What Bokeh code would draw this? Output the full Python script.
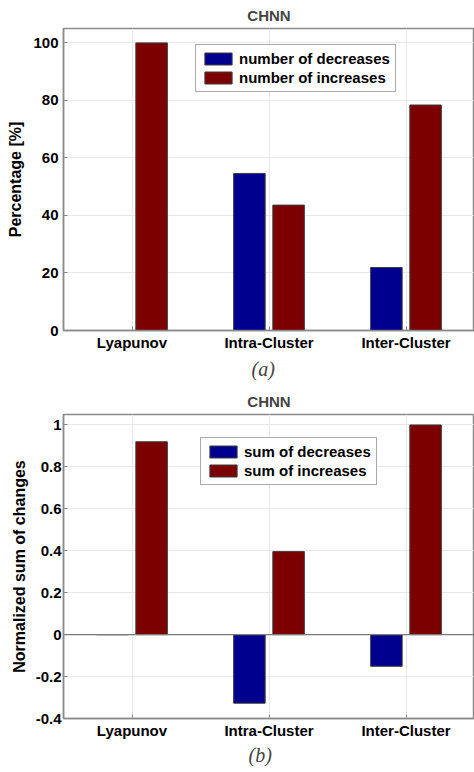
from bokeh.plotting import figure
from bokeh.layouts import column
from bokeh.models import (ColumnDataSource, Range1d, FixedTicker, Legend,
                          LegendItem, Title, Span)
from bokeh.transform import dodge
from bokeh.embed import file_html
from bokeh.resources import INLINE

# ---------------- data ----------------
categories = ["Lyapunov", "Intra-Cluster", "Inter-Cluster"]

pct_decreases = [0.0, 54.6, 21.9]
pct_increases = [100.0, 43.6, 78.4]

sum_decreases = [0.0, -0.327, -0.151]
sum_increases = [0.92, 0.396, 1.0]

ticks_a = [0, 20, 40, 60, 80, 100]
tick_labels_a = ["0", "20", "40", "60", "80", "100"]
ticks_b = [-0.4, -0.2, 0.0, 0.2, 0.4, 0.6, 0.8, 1.0]
tick_labels_b = ["-0.4", "-0.2", "0", "0.2", "0.4", "0.6", "0.8", "1"]

legend_a = ["number of decreases", "number of increases"]
legend_b = ["sum of decreases", "sum of increases"]

BLUE = "#00008F"
RED = "#7D0000"
FRAME = "#8a8a8a"
FONT = "Liberation Sans"


def make_panel(dec, inc, labels, ylabel, caption, y0, y1, ticks, tick_labels,
               legend_xy, left_border, bottom_border, zero_line,
               cap_offset, cap_standoff, title_standoff, ylab_standoff,
               yaxlab_standoff):
    src = ColumnDataSource(dict(cat=categories, dec=dec, inc=inc))
    p = figure(x_range=categories, y_range=Range1d(y0, y1),
               width=474, height=386, output_backend="svg",
               toolbar_location=None, tools="",
               min_border_left=left_border, min_border_right=0,
               min_border_top=28, min_border_bottom=bottom_border)
    p.x_range.range_padding = 0

    r1 = p.vbar(x=dodge("cat", -0.143, range=p.x_range), top="dec",
                width=0.23, source=src, fill_color=BLUE,
                line_color="#3c3c3c", line_width=1)
    r2 = p.vbar(x=dodge("cat", 0.143, range=p.x_range), top="inc",
                width=0.23, source=src, fill_color=RED,
                line_color="#3c3c3c", line_width=1)
    if zero_line:
        p.add_layout(Span(location=0, dimension="width",
                          line_color="#7a7a7a", line_width=1.2))

    # title
    p.title.text = "CHNN"
    p.title.align = "center"
    p.title.text_font = FONT
    p.title.text_font_size = "15px"
    p.title.text_font_style = "bold"
    p.title.standoff = title_standoff

    # caption
    p.add_layout(Title(text=caption, align="left", offset=cap_offset,
                       text_font="Liberation Serif",
                       text_font_style="italic", text_font_size="20px",
                       standoff=cap_standoff), "below")

    p.background_fill_color = "white"
    p.border_fill_color = "white"
    p.outline_line_color = FRAME
    p.outline_line_width = 1.5

    p.xgrid.grid_line_color = "#e8e8e8"
    p.ygrid.grid_line_color = "#e8e8e8"

    p.yaxis.ticker = FixedTicker(ticks=ticks)
    p.yaxis.major_label_overrides = {t: s for t, s in zip(ticks, tick_labels)}
    p.yaxis.axis_label = ylabel

    for ax in (p.xaxis[0], p.yaxis[0]):
        ax.axis_line_color = FRAME
        ax.axis_line_width = 1.5
        ax.major_tick_in = 4
        ax.major_tick_out = 0
        ax.major_tick_line_color = FRAME
        ax.minor_tick_line_color = None
        ax.major_label_text_font = FONT
        ax.major_label_text_font_size = "15px"
        ax.major_label_text_font_style = "bold"
        ax.major_label_text_color = "black"
        ax.axis_label_text_font = FONT
        ax.axis_label_text_font_size = "16px"
        ax.axis_label_text_font_style = "bold"
        ax.axis_label_text_color = "black"
        ax.axis_label_standoff = 6
        ax.major_label_standoff = 5
    p.xaxis.major_label_standoff = 3
    p.yaxis.major_label_standoff = ylab_standoff
    p.yaxis.axis_label_standoff = yaxlab_standoff

    legend = Legend(items=[LegendItem(label=labels[0], renderers=[r1]),
                           LegendItem(label=labels[1], renderers=[r2])],
                    location=legend_xy)
    legend.border_line_color = "#555555"
    legend.border_line_width = 1
    legend.background_fill_color = "white"
    legend.background_fill_alpha = 1
    legend.label_text_font = FONT
    legend.label_text_font_size = "15px"
    legend.label_text_font_style = "bold"
    legend.label_text_color = "black"
    legend.glyph_width = 34
    legend.glyph_height = 15
    legend.label_height = 15
    legend.label_standoff = 4
    legend.padding = 5
    legend.spacing = 2
    legend.margin = 0
    p.add_layout(legend)
    return p


p1 = make_panel(pct_decreases, pct_increases, legend_a, "Percentage [%]",
                "(a)", 0, 105, ticks_a, tick_labels_a, (132, 238), 60, 56,
                False, 188, 5, 9, 5, 6)
p2 = make_panel(sum_decreases, sum_increases, legend_b,
                "Normalized sum of changes", "(b)", -0.4, 1.05, ticks_b,
                tick_labels_b, (137, 233), 63, 54, True, 185, 1, 9, 2, 5)

layout = column(p1, p2, spacing=0)
open("out.html", "w").write(file_html(layout, INLINE))
